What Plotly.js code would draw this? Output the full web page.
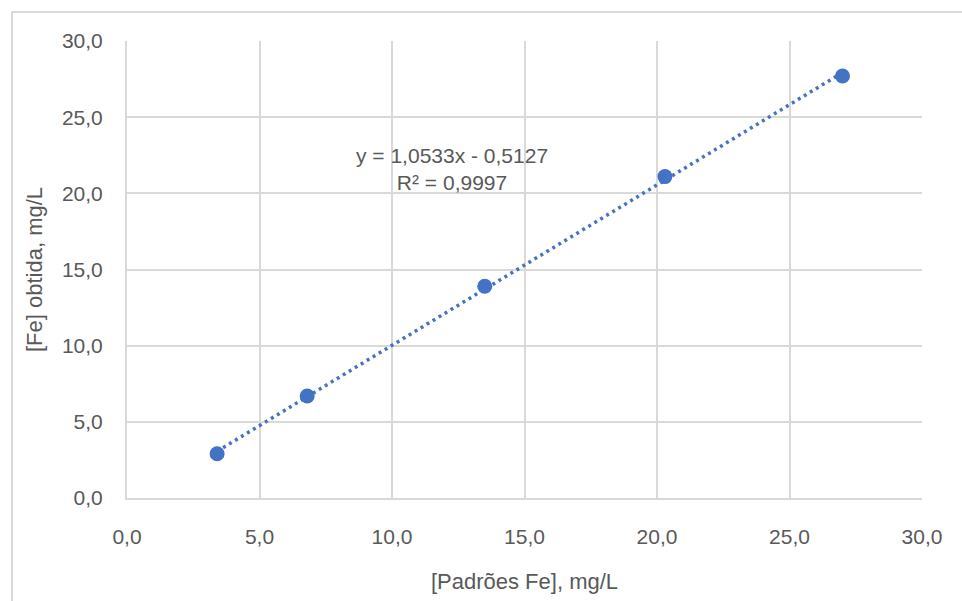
<!DOCTYPE html>
<html>
<head>
<meta charset="utf-8">
<script src="https://cdn.plot.ly/plotly-3.0.1.min.js"></script>
<style>
html,body{margin:0;padding:0;background:#fff;}
#wrap{position:relative;width:962px;height:601px;overflow:hidden;}
#chart{position:absolute;left:0;top:0;width:962px;height:601px;}
#frame{position:absolute;left:11px;top:11px;width:980px;height:620px;border:2px solid #d9d9d9;box-sizing:border-box;pointer-events:none;}
</style>
</head>
<body>
<div id="wrap"><div id="chart"></div><div id="frame"></div></div>
<script>
// Data
const padroes = [3.4, 6.8, 13.5, 20.3, 27.0];      // [Padrões Fe], mg/L
const obtida  = [2.9, 6.7, 13.9, 21.1, 27.7];      // [Fe] obtida, mg/L
const slope = 1.0533;
const intercept = -0.5127;
const r2 = 0.9997;
const tickVals = [0, 5, 10, 15, 20, 25, 30];
const tickText = ["0,0", "5,0", "10,0", "15,0", "20,0", "25,0", "30,0"];

const xMin = Math.min(...padroes), xMax = Math.max(...padroes);
const trendX = [xMin, xMax];
const trendY = trendX.map(x => slope * x + intercept);

const fmt = v => v.toFixed(4).replace('.', ',');
const eqText = 'y = ' + fmt(slope) + 'x - ' + fmt(Math.abs(intercept)) + '<br>R² = ' + fmt(r2);

const txt = '#595959';
const grid = '#d9d9d9';
const font = 'Liberation Sans, Arial, sans-serif';

const traces = [
  {x: trendX, y: trendY, mode: 'lines', type: 'scatter',
   line: {color: '#4472c4', width: 3.5, dash: '3px,4px'}, hoverinfo: 'skip', showlegend: false},
  {x: padroes, y: obtida, mode: 'markers', type: 'scatter',
   marker: {color: '#4472c4', size: 15}, showlegend: false}
];

const axisCommon = {
  range: [0, 30], tickvals: tickVals, ticktext: tickText,
  showgrid: true, gridcolor: grid, gridwidth: 2,
  zeroline: false, showline: true, linecolor: grid, linewidth: 2,
  ticks: '', tickfont: {family: font, size: 21, color: txt},
  fixedrange: true
};

const layout = {
  width: 962, height: 601,
  margin: {l: 127, r: 40, t: 41, b: 103},
  paper_bgcolor: '#ffffff', plot_bgcolor: '#ffffff',
  font: {family: font, color: txt},
  separators: ', ',
  xaxis: Object.assign({}, axisCommon, {
    ticklabelstandoff: 19,
    title: {text: '[Padrões Fe], mg/L', font: {family: font, size: 22, color: txt}, standoff: 26}
  }),
  yaxis: Object.assign({}, axisCommon, {
    ticklabelstandoff: 18,
    title: {text: '[Fe] obtida, mg/L', font: {family: font, size: 22, color: txt}, standoff: 13}
  }),
  annotations: [{
    x: 12.26, y: 21.6, xref: 'x', yref: 'y', text: eqText, showarrow: false,
    font: {family: font, size: 21, color: txt}, align: 'center', xanchor: 'center', yanchor: 'middle'
  }]
};

Plotly.newPlot('chart', traces, layout, {displayModeBar: false, staticPlot: true});
</script>
</body>
</html>
